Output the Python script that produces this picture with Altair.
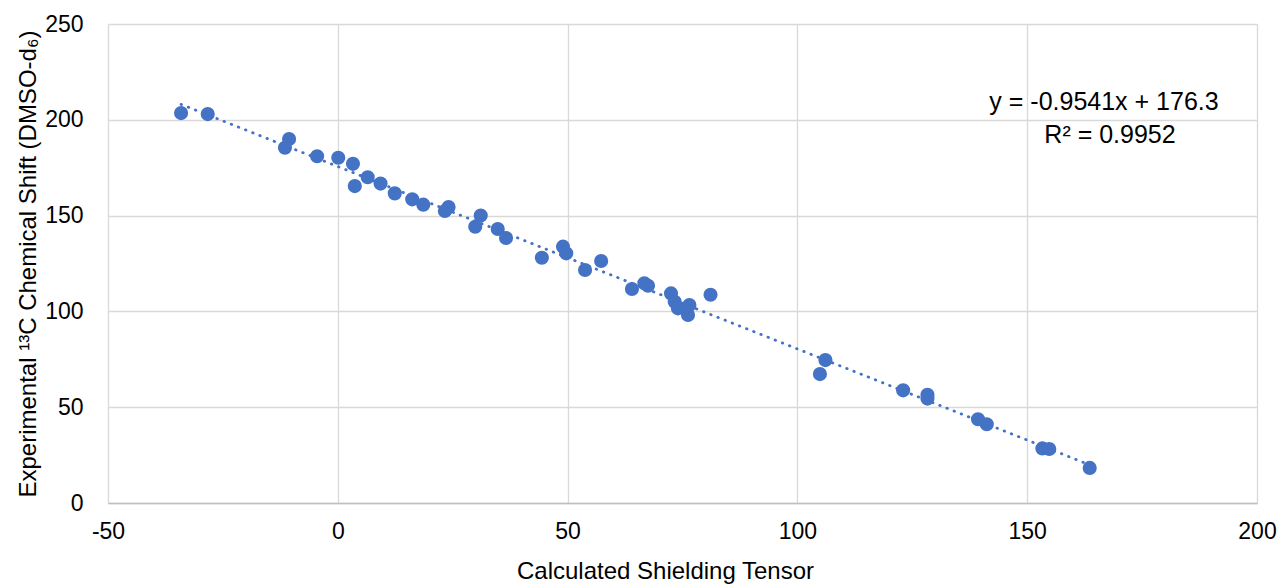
import altair as alt
import pandas as pd

# Data
calc_shielding = [-34.1, -28.3, -10.6, -11.5, -4.5, 0.1, 3.3, 3.7, 6.5, 9.3, 12.4,
                  16.2, 18.6, 23.3, 24.1, 31.1, 29.9, 34.8, 36.6, 44.4, 49.0, 49.7,
                  57.3, 53.8, 64.0, 66.7, 67.5, 72.5, 73.3, 74.0, 76.5, 76.2, 81.1,
                  106.1, 104.9, 123.0, 128.3, 128.3, 139.3, 141.2, 153.3, 154.8, 163.6]
exp_shift = [203.5, 203.0, 190.0, 185.4, 181.0, 180.2, 177.0, 165.4, 170.0, 166.7, 161.6,
             158.5, 155.7, 152.4, 154.5, 150.0, 144.2, 143.0, 138.3, 128.0, 133.8, 130.3,
             126.3, 121.6, 111.7, 114.7, 113.4, 109.4, 105.0, 101.6, 103.3, 98.1, 108.7,
             74.6, 67.3, 58.8, 56.5, 54.5, 43.7, 41.1, 28.5, 28.2, 18.3]
x_ticks = [-50, 0, 50, 100, 150, 200]
y_ticks = [0, 50, 100, 150, 200, 250]
equation_lines = ["y = -0.9541x + 176.3", "R² = 0.9952"]

df = pd.DataFrame({"x": calc_shielding, "y": exp_shift})

FONT = "Liberation Sans"
BLUE = "#4472C4"
W, H = 1149, 479

xscale = alt.Scale(domain=[-50, 200], nice=False, zero=False)
yscale = alt.Scale(domain=[0, 250], nice=False, zero=False)

label_expr = "datum.value < 0 ? '-' + abs(datum.value) : '' + datum.value"

base = alt.Chart(df)

points = base.mark_circle(size=200, color=BLUE, opacity=1).encode(
    x=alt.X("x:Q", scale=xscale,
            axis=alt.Axis(values=x_ticks, title="Calculated Shielding Tensor",
                          labelExpr=label_expr, labelFlush=False, labelOverlap=False,
                          titleFontSize=24, titleFont=FONT, titleFontWeight="normal",
                          titleColor="#000000", titleX=557, titleY=75,
                          titleAlign="center", titleBaseline="alphabetic",
                          labelFontSize=23, labelFont=FONT, labelColor="#000000",
                          labelPadding=17, ticks=False, domainColor="#BFBFBF",
                          domainWidth=1.3, gridColor="#D9D9D9", gridWidth=1.3)),
    y=alt.Y("y:Q", scale=yscale,
            axis=alt.Axis(values=y_ticks, title="Experimental ¹³C Chemical Shift (DMSO-d₆)",
                          labelFlush=False, labelOverlap=False,
                          titleFontSize=24, titleFont=FONT, titleFontWeight="normal",
                          titleColor="#000000", titleX=-73, titleY=H / 2,
                          titleAngle=-90, titleAlign="center", titleBaseline="alphabetic",
                          labelFontSize=23, labelFont=FONT, labelColor="#000000",
                          labelPadding=25, ticks=False, domain=False,
                          gridColor="#D9D9D9", gridWidth=1.3)),
)

trend = base.transform_regression("x", "y").mark_line(
    color=BLUE, strokeWidth=2.8, strokeDash=[0.5, 7.2], strokeCap="round"
).encode(x=alt.X("x:Q", scale=xscale), y=alt.Y("y:Q", scale=yscale))

eq_df = pd.DataFrame({"t": equation_lines, "i": [0, 1]})
eq1 = alt.Chart(eq_df).transform_filter("datum.i == 0").mark_text(
    align="center", baseline="alphabetic", fontSize=25, font=FONT, color="#000000"
).encode(text="t:N", x=alt.value(996), y=alt.value(86))
eq2 = alt.Chart(eq_df).transform_filter("datum.i == 1").mark_text(
    align="center", baseline="alphabetic", fontSize=25, font=FONT, color="#000000"
).encode(text="t:N", x=alt.value(1002), y=alt.value(119))

chart = alt.layer(points, trend, eq1, eq2).properties(
    width=W, height=H,
    autosize=alt.AutoSizeParams(type="none"),
    padding={"left": 108, "top": 24, "right": 25, "bottom": 83},
).configure_view(stroke=None).configure(background="white")

chart.save("out.html", embed_options={"renderer": "svg", "actions": False})
